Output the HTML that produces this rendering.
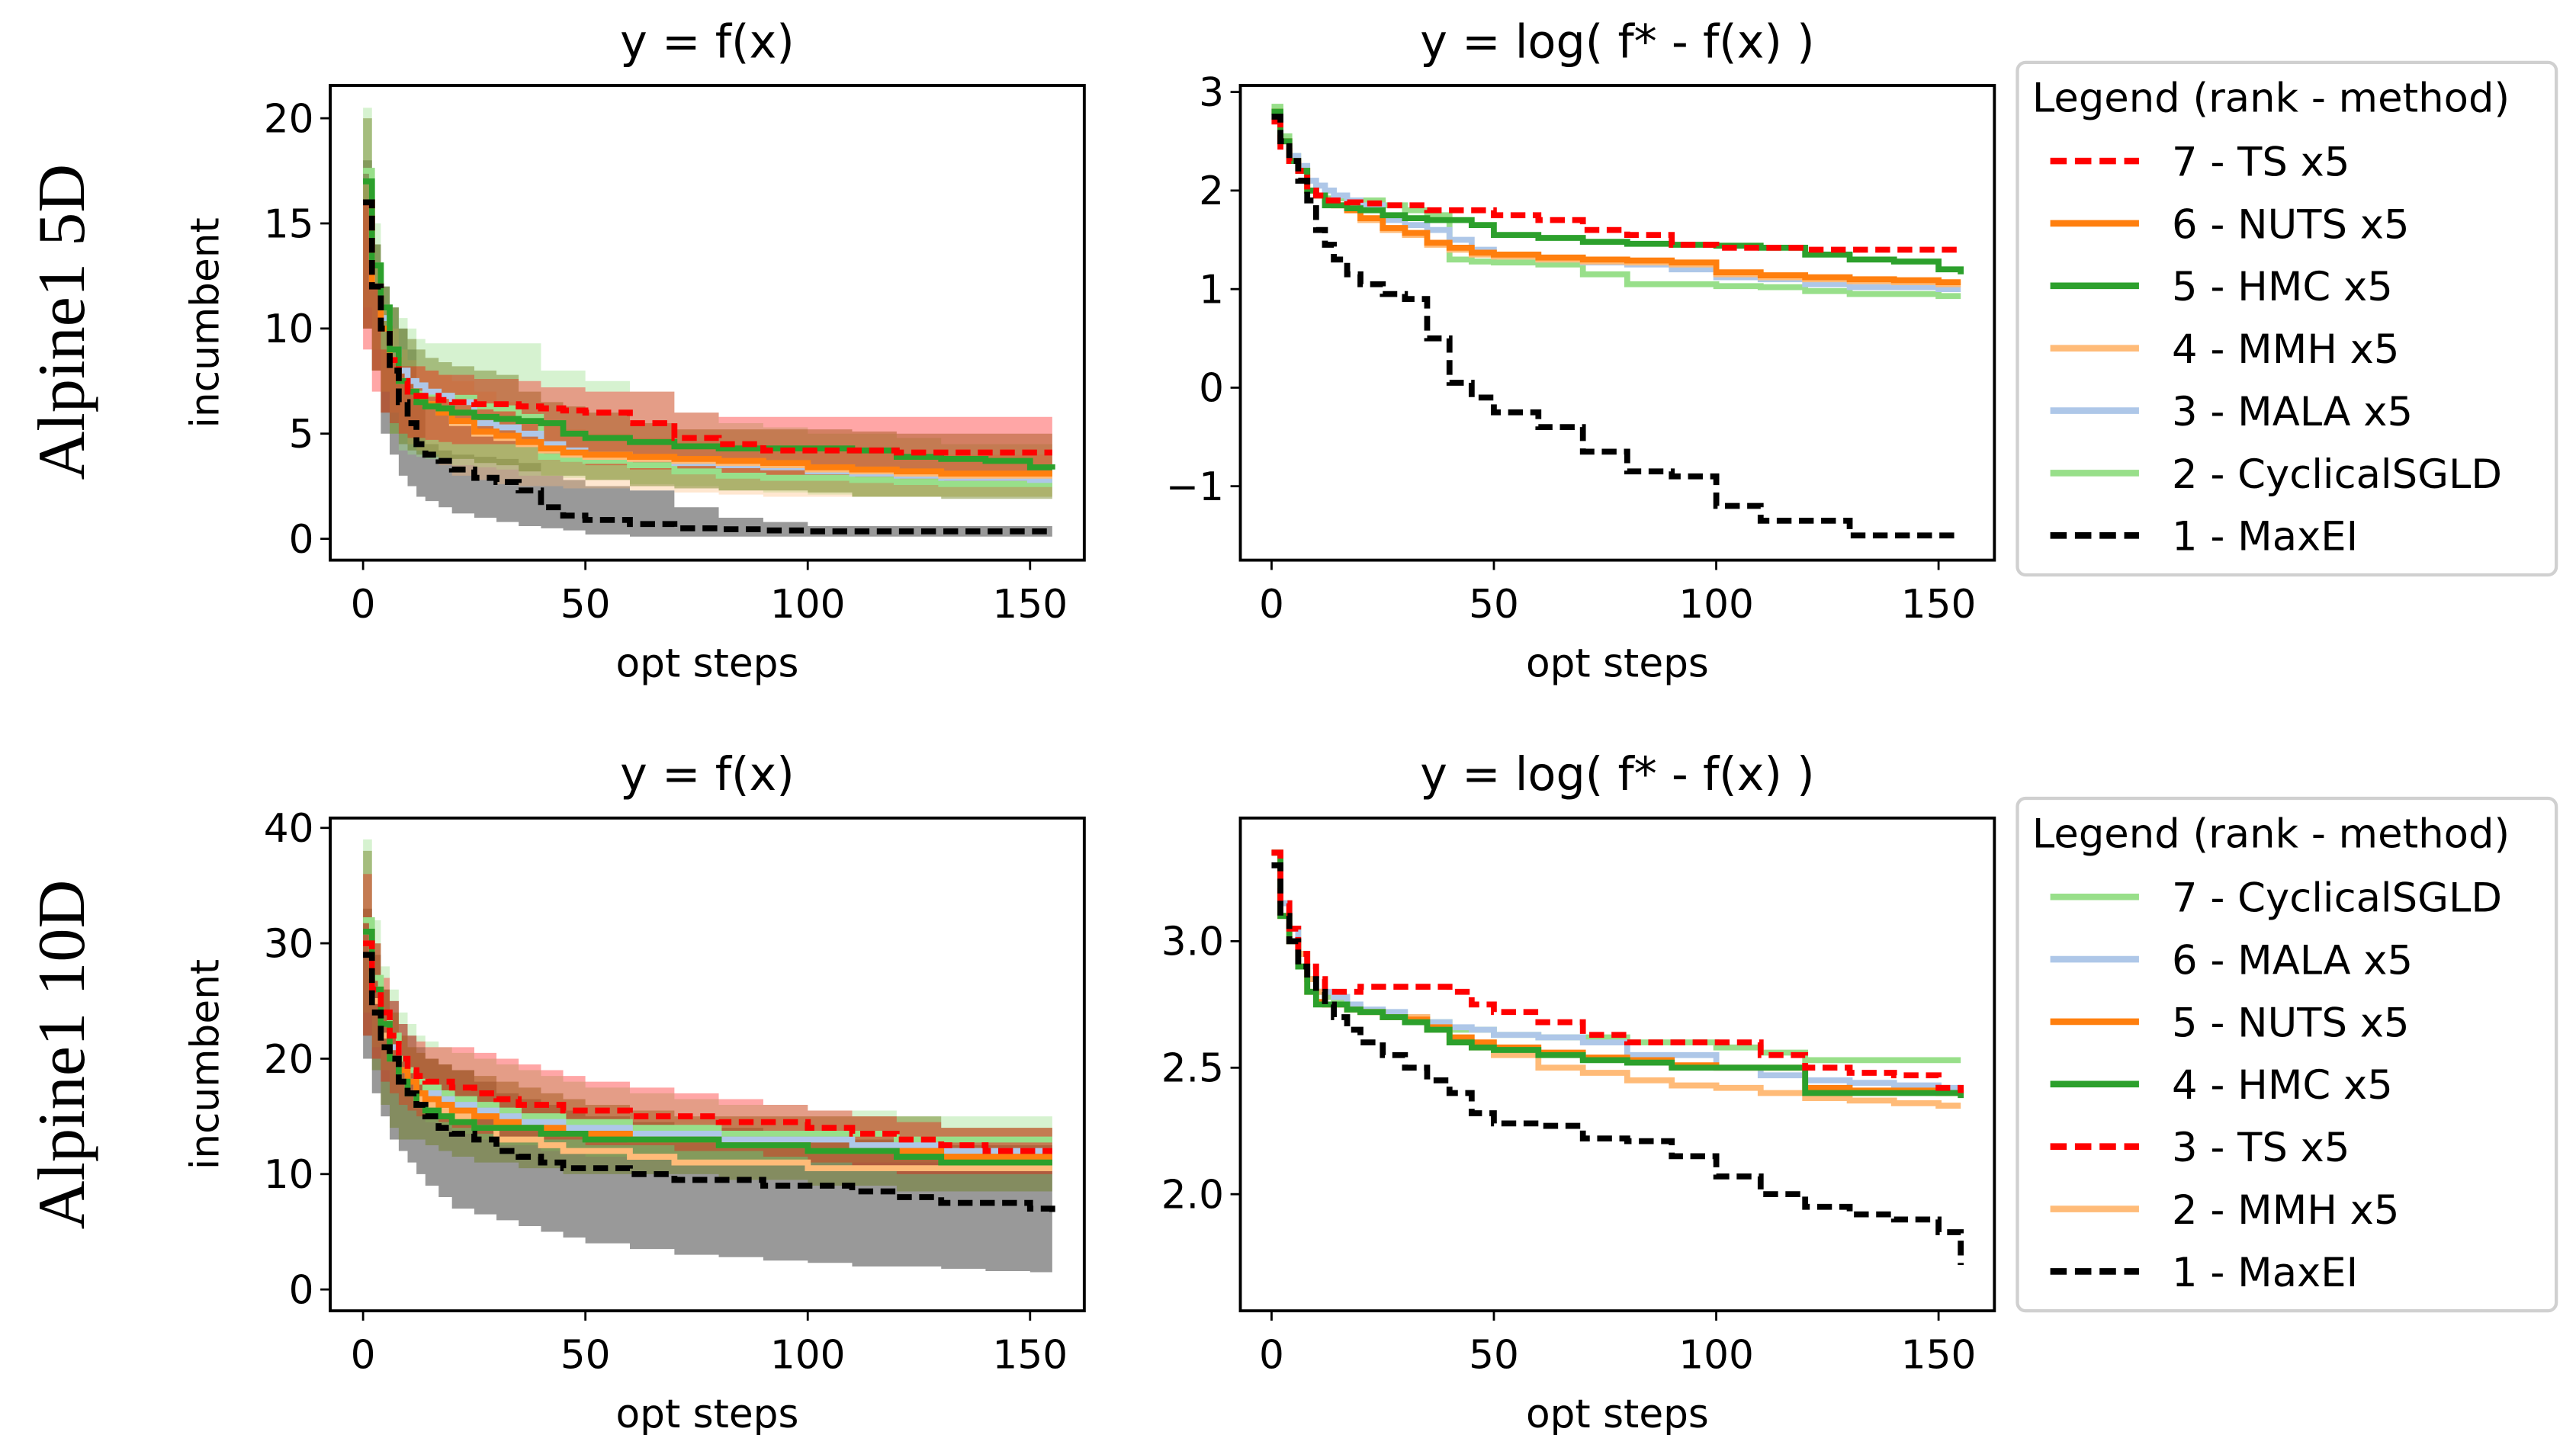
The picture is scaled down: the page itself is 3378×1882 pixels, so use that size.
<!DOCTYPE html>
<html><head><meta charset="utf-8"><style>
html,body{margin:0;padding:0;background:#fff}
svg{display:block}
text{font-family:"DejaVu Sans","Liberation Sans",sans-serif;fill:#000}
</style></head><body>
<svg id="fig" xmlns="http://www.w3.org/2000/svg" width="3378" height="1882" viewBox="0 0 1568 873.6">
<rect width="1568" height="873.6" fill="#fff"/>
<text transform="translate(51,196) rotate(-90)" text-anchor="middle" style="font-family:'Liberation Serif',serif;font-size:41px">Alpine1 5D</text>
<text transform="translate(51,642) rotate(-90)" text-anchor="middle" style="font-family:'Liberation Serif',serif;font-size:41px">Alpine1 10D</text>
<g id="panels"></g>
</svg>
<script>
const steps=[0,2,4,6,8,10,12,14,17,20,25,30,35,40,45,50,60,70,80,90,100,110,120,130,140,150,155];
// ---- Panel A: 5D f(x)
const a_TS=[16,12,10,8.5,7.5,7.0,6.8,6.8,6.6,6.5,6.4,6.4,6.3,6.2,6.1,6.0,5.5,4.8,4.5,4.2,4.2,4.2,4.1,4.1,4.1,4.1,4.1];
const a_NUTS=[16,12,10,8.5,7.5,7,6.7,6.4,6,5.6,5.1,4.9,4.6,4.3,4.1,4.0,3.9,3.8,3.7,3.6,3.4,3.3,3.2,3.1,3.1,3.1,3.1];
const a_HMC=[17,13,11,9,7.5,7,6.5,6.3,6.2,6,5.8,5.7,5.6,5.5,5.0,4.8,4.6,4.4,4.3,4.3,4.3,4.2,3.9,3.8,3.7,3.4,3.3];
const a_MMH=[16,12,10,8.5,7.5,7,6.7,6.4,6,5.5,5.0,4.8,4.5,4.2,4.0,3.9,3.8,3.7,3.6,3.5,3.3,3.2,3.1,3.0,3.0,3.0,3.0];
const a_MALA=[16,12,10.5,9,8,7.5,7.3,7.0,6.8,6.5,5.5,5.3,5.0,4.5,4.2,4.0,3.8,3.6,3.5,3.4,3.2,3.1,3.0,2.9,2.9,2.8,2.8];
const a_CSGLD=[17.5,13,11,9,7.5,7,6.9,6.9,6.8,6.7,6.3,6.2,5.8,3.9,3.8,3.7,3.5,3.2,3.0,2.9,2.9,2.8,2.7,2.6,2.6,2.6,2.6];
const a_MaxEI=[16,12,10,8,6.5,5.5,4.5,4.0,3.7,3.3,2.9,2.7,2.3,1.5,1.1,0.9,0.7,0.5,0.45,0.4,0.35,0.35,0.35,0.35,0.35,0.35,0.35];
const a_MaxEI_lo=[14,10,8,5,4,3,2.5,2,1.8,1.5,1.2,1.0,0.8,0.6,0.5,0.4,0.2,0.1,0.1,0.1,0.1,0.1,0.1,0.1,0.1,0.1,0.1];
const a_MaxEI_hi=[18,14,12,11,10,9,7,4.5,4.2,4,3.9,3.8,3.6,3.0,2.8,2.5,2.3,1.5,1.0,0.8,0.6,0.6,0.6,0.6,0.6,0.6,0.6];
const a_TS_lo=[12,9,7,6,5.5,5,4.8,4.8,4.7,4.6,4.5,4.5,4.5,4.4,4.4,4.2,3.5,3.3,3.3,3.0,3.0,3.0,3.0,3.0,3.0,3.0,3.0];
const a_TS_hi=[16,12,9,8.5,8.2,8.2,8.2,8.0,7.8,7.8,7.6,7.6,7.5,7.2,7.2,7.0,7.0,6.0,5.8,5.8,5.8,5.8,5.8,5.8,5.8,5.8,5.8];
const a_HMC_lo=[14,10,8,6,5,4.5,4.2,4.0,3.9,3.8,3.8,3.6,3.5,3.2,3.0,3.0,2.8,2.5,2.4,2.3,2.3,2.2,2.0,2.0,1.9,1.9,1.9];
const a_HMC_hi=[20,14,12,11,10,9.5,9,8.6,8.4,8.2,8,7.8,7,6.5,6.3,6,5.5,5.2,5.2,5.2,5.2,5.1,5.0,5.0,5.0,5.0,5.0];
const a_MMH_lo=[14,10,8,7,6,5,4.5,4.2,4,3.5,3,2.8,2.6,2.5,2.5,2.4,2.4,2.3,2.2,2.1,2.0,2.0,2.0,2.0,2.0,2.0,2.0];
const a_MMH_hi=[17,13,11,10,9,8.5,8.2,8,7.8,7.5,7,6.5,6,5.5,5.2,5,4.8,4.6,4.5,4.4,4.2,4.1,4.0,4.0,4.0,4.0,4.0];
const a_CSGLD_lo=[15,11,9,7,5,4.2,4.0,3.9,3.8,3.7,3.5,3.4,3.3,3.0,3.0,2.9,2.8,2.6,2.5,2.3,2.2,2.1,2.0,2.0,2.0,2.0,2.0];
const a_CSGLD_hi=[20.5,15,12,11,10.5,10,9.5,9.3,9.3,9.3,9.3,9.3,9.3,8,8,7.5,7,6,5.5,5.3,5,5,4.8,4.5,4.5,4.5,4.5];
// ---- Panel B: 5D log
const b_TS=[2.7,2.4,2.3,2.2,2.0,1.95,1.9,1.9,1.88,1.87,1.85,1.85,1.8,1.8,1.8,1.75,1.7,1.6,1.55,1.45,1.42,1.42,1.4,1.4,1.4,1.4,1.4];
const b_NUTS=[2.8,2.5,2.3,2.2,2.0,1.95,1.9,1.85,1.8,1.72,1.62,1.57,1.47,1.42,1.37,1.35,1.32,1.3,1.29,1.27,1.17,1.14,1.12,1.1,1.09,1.07,1.07];
const b_HMC=[2.8,2.5,2.3,2.2,2.0,1.95,1.85,1.85,1.82,1.8,1.75,1.72,1.7,1.7,1.65,1.55,1.52,1.48,1.46,1.45,1.44,1.42,1.35,1.3,1.28,1.2,1.15];
const b_MMH=[2.8,2.5,2.3,2.2,2.0,1.95,1.9,1.85,1.8,1.7,1.6,1.55,1.45,1.4,1.35,1.33,1.3,1.28,1.27,1.25,1.15,1.12,1.1,1.08,1.07,1.05,1.05];
const b_MALA=[2.8,2.5,2.35,2.25,2.1,2.05,2.0,1.95,1.9,1.85,1.7,1.65,1.6,1.5,1.4,1.35,1.3,1.27,1.25,1.2,1.12,1.1,1.05,1.02,1.02,1.0,1.0];
const b_CSGLD=[2.85,2.55,2.35,2.2,2.0,1.95,1.92,1.92,1.9,1.9,1.85,1.8,1.75,1.3,1.28,1.27,1.25,1.15,1.05,1.05,1.03,1.02,0.98,0.95,0.95,0.93,0.93];
const b_MaxEI=[2.75,2.5,2.3,2.1,1.9,1.6,1.45,1.3,1.15,1.05,0.95,0.9,0.5,0.05,-0.1,-0.25,-0.4,-0.65,-0.85,-0.9,-1.2,-1.35,-1.35,-1.5,-1.5,-1.5,-1.5];
// ---- Panel C: 10D f(x)
const c_TS=[30,26,24,22,20,19,18.5,18,18,17.5,17,16.5,16,16,15.5,15.5,15,15,14.5,14.5,14,13.5,13,12.5,12,12,12];
const c_NUTS=[31,26,23,20,19,18,17,16.5,16,15.5,15,14.5,14,14,13.5,13.5,13,13,12.5,12.5,12,12,12,11.5,11.5,11.5,11.5];
const c_HMC=[31,26,23,20,18,17,16,15.5,15,14.5,14,14,14,13.5,13.5,13,13,13,12.5,12.5,12,12,11.5,11,11,11,11];
const c_MMH=[30,25,22,20,18,17,16.5,16,15.5,15,14,13,13,12.5,12,12,11.5,11,11,11,10.5,10.5,10.5,10.5,10.5,10.5,10.5];
const c_MALA=[31,26,23,21,19,18,17,17,16.5,16,15.5,15,14.5,14.5,14,14,13.5,13.5,13,13,13,12.5,12.5,12,12,12,12];
const c_CSGLD=[32,27,24,22,20,19,18,17.5,17,16.5,16,15.5,15,15,14.5,14.5,14,14,13.5,13.5,13.5,13.5,13,13,13,13,13];
const c_MaxEI=[29,24,21,20,18,17,16,15,14,13.5,13,12,11.5,11,10.5,10.5,10,9.5,9.5,9,9,8.5,8,7.5,7.5,7,6.3];
const c_MaxEI_lo=[25,20,17,15,13,12,11,10,9,8,7,6.5,6,5.5,5,4.5,4,3.5,3,2.8,2.5,2.3,2,2,1.8,1.6,1.5];
const c_MaxEI_hi=[33,29,26,25,23,22,21,20,19.5,19,18,17,16.5,16,15.5,15,14.5,14,14,13.5,13.5,13,13,12.5,12.5,12.5,12.5];
const c_TS_lo=[26,22,20,18,17,16,15.5,15,15,14.5,14,13.5,13,13,13,13,12.5,12.5,12,12,11.5,11,10.5,10,10,10,10];
const c_TS_hi=[36,30,27,25,23,22,21.5,21,21,21,20.5,20,19.5,19,18.5,18,17.5,17,16.5,16,15.5,15,14.5,14,14,14,14];
const c_HMC_lo=[27,22,19,16,14,13,13,13,12.5,12,11.5,11,11,10.5,10.5,10,10,10,10,9.5,9.5,9,9,8.5,8.5,8.5,8.5];
const c_HMC_hi=[38,30,26,24,22,21,20.5,20,19.5,19,18.5,18,17.5,17,16.5,16,15.5,15,15,15,15,15,15,14,14,14,14];
const c_CSGLD_lo=[28,24,21,19,17,16,15.5,15,14.5,14,13.5,13,12.5,12.5,12,12,11.5,11.5,11,11,11,11,11,11,11,11,11];
const c_CSGLD_hi=[39,32,28,26,24,23,22,21.5,21,20.5,20,19.5,19,18.5,18,17.5,17,16.5,16,16,15.5,15.5,15,15,15,15,15];
// ---- Panel D: 10D log
const d_TS=[3.35,3.15,3.05,2.95,2.9,2.85,2.8,2.8,2.8,2.82,2.82,2.82,2.82,2.8,2.75,2.72,2.68,2.63,2.6,2.6,2.6,2.55,2.5,2.48,2.47,2.42,2.4];
const d_NUTS=[3.35,3.1,3.0,2.9,2.8,2.76,2.75,2.75,2.73,2.72,2.7,2.69,2.66,2.62,2.6,2.58,2.56,2.54,2.53,2.51,2.5,2.5,2.42,2.41,2.41,2.4,2.39];
const d_HMC=[3.35,3.1,3.0,2.9,2.8,2.75,2.75,2.75,2.73,2.72,2.7,2.68,2.65,2.6,2.58,2.57,2.55,2.53,2.52,2.5,2.5,2.5,2.4,2.4,2.4,2.4,2.38];
const d_MMH=[3.35,3.1,3.0,2.95,2.85,2.8,2.75,2.75,2.73,2.72,2.7,2.7,2.65,2.6,2.58,2.55,2.5,2.48,2.45,2.43,2.42,2.4,2.38,2.37,2.36,2.35,2.35];
const d_MALA=[3.35,3.15,3.05,2.95,2.85,2.8,2.8,2.78,2.75,2.73,2.72,2.7,2.68,2.66,2.65,2.63,2.62,2.6,2.55,2.55,2.5,2.47,2.45,2.44,2.43,2.42,2.42];
const d_CSGLD=[3.35,3.15,3.05,2.95,2.85,2.8,2.78,2.76,2.74,2.72,2.7,2.7,2.68,2.65,2.65,2.63,2.62,2.62,2.6,2.6,2.58,2.56,2.53,2.53,2.53,2.53,2.53];
const d_MaxEI=[3.3,3.1,3.0,2.9,2.85,2.8,2.75,2.7,2.65,2.6,2.55,2.5,2.45,2.4,2.32,2.28,2.27,2.22,2.21,2.15,2.07,2.0,1.95,1.92,1.9,1.85,1.72];
const xTicks=[0,50,100,150];
const tickA=[0,5,10,15,20], tickB=[-1,0,1,2,3], tickC=[0,10,20,30,40], tickD=[2.0,2.5,3.0];
const legendTop=["7 - TS x5","6 - NUTS x5","5 - HMC x5","4 - MMH x5","3 - MALA x5","2 - CyclicalSGLD","1 - MaxEI"];
const legendBot=["7 - CyclicalSGLD","6 - MALA x5","5 - NUTS x5","4 - HMC x5","3 - TS x5","2 - MMH x5","1 - MaxEI"];

const C={TS:'#ff0000',NUTS:'#ff7f0e',HMC:'#2ca02c',MMH:'#ffbb78',MALA:'#aec7e8',CSGLD:'#98df8a',MaxEI:'#000000'};
const NS='http://www.w3.org/2000/svg';
const root=document.getElementById('panels');
function el(tag,attrs,parent,txt){const e=document.createElementNS(NS,tag);for(const k in attrs)e.setAttribute(k,attrs[k]);if(txt!==undefined)e.textContent=txt;(parent||root).appendChild(e);return e;}
function stepPath(xs,ys,sx,sy){let d='M'+sx(xs[0]).toFixed(1)+','+sy(ys[0]).toFixed(1);for(let i=1;i<xs.length;i++){d+='H'+sx(xs[i]).toFixed(1)+'V'+sy(ys[i]).toFixed(1);}return d;}
function bandPath(xs,lo,hi,sx,sy){let d='M'+sx(xs[0]).toFixed(1)+','+sy(hi[0]).toFixed(1);for(let i=1;i<xs.length;i++)d+='H'+sx(xs[i]).toFixed(1)+'V'+sy(hi[i]).toFixed(1);for(let i=xs.length-1;i>0;i--)d+='V'+sy(lo[i]).toFixed(1)+'H'+sx(xs[i-1]).toFixed(1);d+='V'+sy(lo[0]).toFixed(1)+'Z';return d;}

function panel(p){
  const g=el('g',{});
  
  
  const sx=v=>p.x0px+(v-0)*(p.x150px-p.x0px)/150;
  const sy=v=>p.ya_px+(v-p.ya)*(p.yb_px-p.ya_px)/(p.yb-p.ya);
  (p.bands||[]).forEach(b=>{
    const e=el('path',{d:bandPath(steps,b.lo,b.hi,sx,sy),fill:b.c,'fill-opacity':b.o},g);
    
    
  });
  p.series.forEach(s=>{
    const a={d:stepPath(steps,s.v,sx,sy),fill:'none',stroke:C[s.k],'stroke-width':3.6};
    if(s.k==='TS'||s.k==='MaxEI')a['stroke-dasharray']='9,4.5';
    const e=el('path',a,g);
    
    
  });
  const fr=el('rect',{x:p.L,y:p.T,width:p.R-p.L,height:p.B-p.T,fill:'none',stroke:'#000','stroke-width':1.8},g);
  
  
  xTicks.forEach(t=>{
    const x=sx(t);
    el('line',{x1:x,x2:x,y1:p.B,y2:p.B+6,stroke:'#000','stroke-width':1.3},g);
    const tx=el('text',{x:x,y:p.B+35,'text-anchor':'middle','font-size':24},g,String(t));
    
    
  });
  p.yt.forEach(t=>{
    const y=sy(t);
    el('line',{x1:p.L-6,x2:p.L,y1:y,y2:y,stroke:'#000','stroke-width':1.3},g);
    const lab=t<0?'\u2212'+Math.abs(t):(p.dec?t.toFixed(1):String(t));
    const tx=el('text',{x:p.L-10,y:y+8.5,'text-anchor':'end','font-size':24},g,lab);
    
    
  });
  const xl=el('text',{x:(p.L+p.R)/2,y:p.B+71,'text-anchor':'middle','font-size':24},g,'opt steps');
  
  
  const ti=el('text',{x:(p.L+p.R)/2,y:p.T-17,'text-anchor':'middle','font-size':28},g,p.title);
  
  
  if(p.ylab){
    const yl=el('text',{transform:'translate('+(p.L-68)+','+((p.T+p.B)/2)+') rotate(-90)','text-anchor':'middle','font-size':24},g,'incumbent');
    
    
  }
}
function legend(top,labels,keys){
  const g=el('g',{});
  
  
  el('rect',{x:1228,y:top,width:328,height:312,rx:5,fill:'#fff',stroke:'#d0d0d0','stroke-width':2},g);
  const t=el('text',{x:1237,y:top+30,'font-size':24.5},g,'Legend (rank - method)');
  
  
  labels.forEach((lab,i)=>{
    const y=top+60+i*38;
    const k=keys[i];
    const a={x1:1248,x2:1302,y1:y,y2:y,stroke:C[k],'stroke-width':4};
    if(k==='TS'||k==='MaxEI')a['stroke-dasharray']='10,5';
    el('line',a,g);
    const tx=el('text',{x:1322,y:y+9,'font-size':24.5},g,lab);
    
    
  });
}
const ordA=['CSGLD','MALA','MMH','NUTS','HMC','TS','MaxEI'];
function ser(pref){return ordA.map(k=>({k:k,v:eval(pref+'_'+k)}));}
panel({name:'panel-5d-f',L:201,R:660,T:52,B:341,x0px:221,x150px:627,ya:0,ya_px:328,yb:20,yb_px:72,yt:tickA,title:'y = f(x)',ylab:true,
  bands:[{k:'maxei',lo:a_MaxEI_lo,hi:a_MaxEI_hi,c:'#000',o:0.4},{k:'csgld',lo:a_CSGLD_lo,hi:a_CSGLD_hi,c:C.CSGLD,o:0.4},{k:'mmh',lo:a_MMH_lo,hi:a_MMH_hi,c:C.MMH,o:0.35},{k:'hmc',lo:a_HMC_lo,hi:a_HMC_hi,c:'#6b7d1a',o:0.45},{k:'ts',lo:a_TS_lo,hi:a_TS_hi,c:C.TS,o:0.35}],
  series:ser('a')});
panel({name:'panel-5d-log',L:755,R:1214,T:52,B:341,x0px:774,x150px:1180,ya:0,ya_px:236,yb:3,yb_px:56,yt:tickB,title:'y = log( f* - f(x) )',series:ser('b')});
panel({name:'panel-10d-f',L:201,R:660,T:498,B:798,x0px:221,x150px:627,ya:0,ya_px:785,yb:40,yb_px:504,yt:tickC,title:'y = f(x)',ylab:true,
  bands:[{k:'maxei',lo:c_MaxEI_lo,hi:c_MaxEI_hi,c:'#000',o:0.4},{k:'csgld',lo:c_CSGLD_lo,hi:c_CSGLD_hi,c:C.CSGLD,o:0.4},{k:'hmc',lo:c_HMC_lo,hi:c_HMC_hi,c:'#6b7d1a',o:0.45},{k:'ts',lo:c_TS_lo,hi:c_TS_hi,c:C.TS,o:0.35}],
  series:ser('c')});
panel({name:'panel-10d-log',L:755,R:1214,T:498,B:798,x0px:774,x150px:1180,ya:2.0,ya_px:727,yb:3.0,yb_px:573,yt:tickD,dec:true,title:'y = log( f* - f(x) )',series:ser('d')});
legend(38,legendTop,['TS','NUTS','HMC','MMH','MALA','CSGLD','MaxEI']);
legend(486,legendBot,['CSGLD','MALA','NUTS','HMC','TS','MMH','MaxEI']);
</script>
</body></html>
